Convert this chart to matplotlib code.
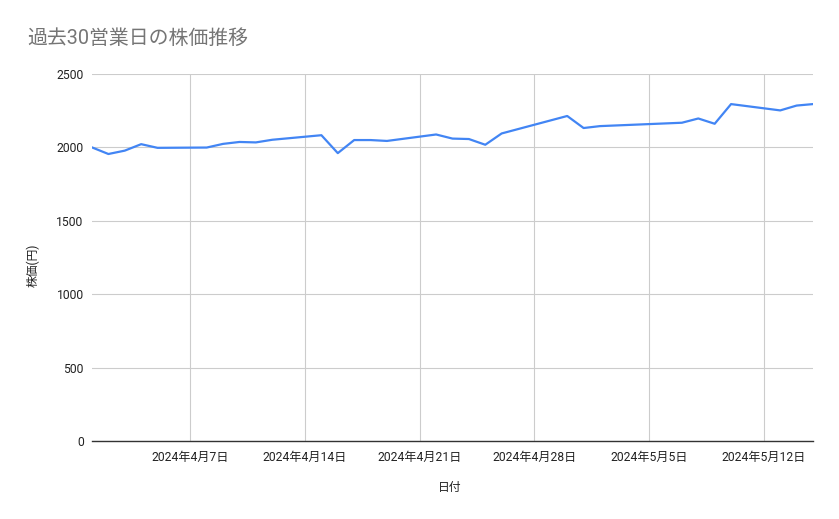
import matplotlib
matplotlib.use("Agg")
import matplotlib.pyplot as plt
import pandas as pd

plt.rcParams["font.family"] = ["Roboto", "Noto Sans CJK JP", "DejaVu Sans"]

# 過去30営業日の終値
dates = pd.to_datetime([
    "2024-04-01", "2024-04-02", "2024-04-03", "2024-04-04", "2024-04-05",
    "2024-04-08", "2024-04-09", "2024-04-10", "2024-04-11", "2024-04-12",
    "2024-04-15", "2024-04-16", "2024-04-17", "2024-04-18", "2024-04-19",
    "2024-04-22", "2024-04-23", "2024-04-24", "2024-04-25", "2024-04-26",
    "2024-04-30", "2024-05-01", "2024-05-02",
    "2024-05-07", "2024-05-08", "2024-05-09", "2024-05-10",
    "2024-05-13", "2024-05-14", "2024-05-15",
])
prices = [
    2000, 1955, 1978, 2022, 1997,
    1999, 2024, 2037, 2034, 2052,
    2083, 1961, 2050, 2050, 2044,
    2088, 2060, 2057, 2018, 2095,
    2214, 2132, 2145,
    2168, 2197, 2161, 2295,
    2252, 2285, 2295,
]
tick_dates = pd.to_datetime(["2024-04-07", "2024-04-14", "2024-04-21",
                             "2024-04-28", "2024-05-05", "2024-05-12"])
tick_labels = [f"{d.year}年{d.month}月{d.day}日" for d in tick_dates]
y_ticks = [0, 500, 1000, 1500, 2000, 2500]

fig = plt.figure(figsize=(8.39, 5.19), dpi=100)
ax = fig.add_axes([92 / 839, 1 - 441 / 519, (813 - 92) / 839, (441 - 74) / 519])

ax.plot(dates, prices, color="#4285F4", linewidth=1.6, solid_joinstyle="round")

ax.set_xlim(dates[0], dates[-1])
ax.set_ylim(0, 2500)
ax.set_yticks(y_ticks)
ax.set_yticklabels([str(v) for v in y_ticks])
ax.set_xticks(tick_dates)
ax.set_xticklabels(tick_labels)

ax.grid(True, color="#cccccc", linewidth=0.8)
ax.set_axisbelow(True)
for side in ["top", "right", "left"]:
    ax.spines[side].set_visible(False)
ax.spines["bottom"].set_color("#333333")
ax.spines["bottom"].set_linewidth(1.0)
ax.tick_params(length=0, labelsize=8.7, colors="#222222", pad=6)
ax.tick_params(axis="x", pad=7)

# 軸ラベル
fig.text(450 / 839, 1 - 487 / 519, "日付", fontsize=8.5, color="#222222",
         ha="center", va="center")
fig.text(33 / 839, 1 - 265 / 519, "株価(円)", fontsize=8.5, color="#222222",
         ha="center", va="center", rotation=90)

fig.text(27 / 839, 1 - 38 / 519, "過去30営業日の株価推移", fontsize=14.3,
         color="#757575", va="center", ha="left")

fig.savefig("out.png", dpi=100)
